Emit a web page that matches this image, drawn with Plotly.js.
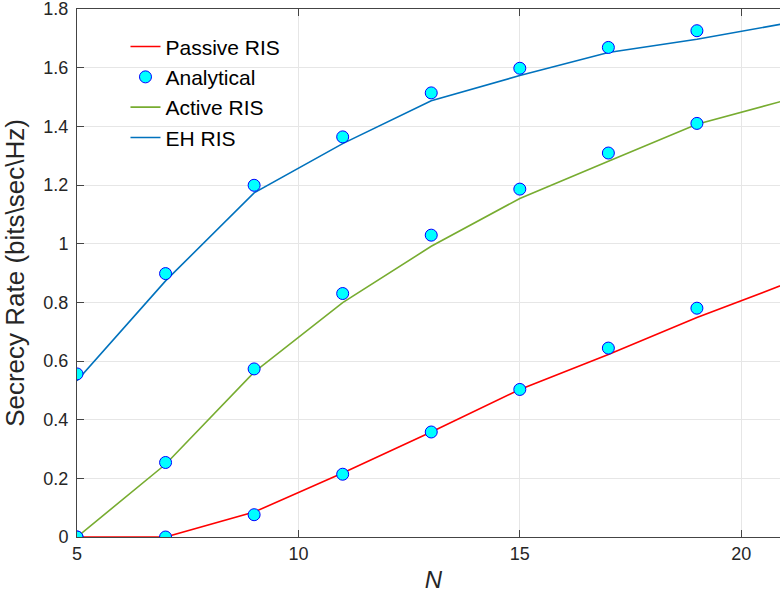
<!DOCTYPE html>
<html>
<head>
<meta charset="utf-8">
<script src="https://cdn.plot.ly/plotly-3.0.1.min.js"></script>
<style>
html,body{margin:0;padding:0;overflow:hidden;background:#fff;}
#chart{width:800px;height:599px;}
</style>
</head>
<body>
<div id="chart"></div>
<script>
// Data
var N_sim = [5, 7, 9, 11, 13, 15, 17, 19, 21];
var passiveSim = [0, 0, 0.085, 0.218, 0.358, 0.503, 0.622, 0.748, 0.863];
var activeSim  = [0, 0.248, 0.562, 0.799, 0.991, 1.154, 1.281, 1.407, 1.489];
var ehSim      = [0.533, 0.873, 1.173, 1.341, 1.487, 1.573, 1.652, 1.697, 1.751];

var N_ana = [5, 7, 9, 11, 13, 15, 17, 19];
var passiveAna = [0, 0, 0.076, 0.214, 0.358, 0.503, 0.644, 0.780];
var activeAna  = [0, 0.254, 0.573, 0.830, 1.029, 1.186, 1.309, 1.410];
var ehAna      = [0.556, 0.898, 1.199, 1.364, 1.514, 1.598, 1.669, 1.726];

var xTicks = [5, 10, 15, 20];
var yTicks = [0, 0.2, 0.4, 0.6, 0.8, 1, 1.2, 1.4, 1.6, 1.8];
var yTickText = ['0', '0.2', '0.4', '0.6', '0.8', '1', '1.2', '1.4', '1.6', '1.8'];
var seriesNames = ['Passive RIS', 'Active RIS', 'EH RIS'];
var anaName = 'Analytical';

var colors = ['#ff0000', '#77ac30', '#0072bd'];
var font = 'Liberation Sans, Arial, Helvetica, sans-serif';
var txt = '#262626';

var markerStyle = {symbol: 'circle', size: 12, color: '#00ffff', line: {color: '#0000ff', width: 1}};

function lineTrace(y, i) {
  return {x: N_sim, y: y, mode: 'lines', name: seriesNames[i],
          line: {color: colors[i], width: 1.6}, showlegend: true};
}
function anaTrace(y, show) {
  return {x: N_ana, y: y, mode: 'markers', name: anaName,
          marker: markerStyle, showlegend: show};
}

var data = [
  lineTrace(passiveSim, 0),
  anaTrace(passiveAna, true),
  lineTrace(activeSim, 1),
  anaTrace(activeAna, false),
  lineTrace(ehSim, 2),
  anaTrace(ehAna, false)
];

var plotW = 800, l = 77, r = 10;
var pxPerUnit = 44.28;
var xMax = 5 + (plotW - l - r) / pxPerUnit;

var layout = {
  width: plotW, height: 599,
  margin: {l: l, r: r, t: 9, b: 62},
  paper_bgcolor: '#ffffff', plot_bgcolor: '#ffffff',
  font: {family: font, color: txt, size: 18},
  showlegend: true,
  legend: {
    x: 0.068, y: 0.967, xanchor: 'left', yanchor: 'top',
    bgcolor: 'rgba(255,255,255,0)', borderwidth: 0,
    font: {family: font, size: 21, color: '#000'},
    tracegroupgap: 0, traceorder: 'normal'
  },
  xaxis: {
    range: [5, xMax], tickvals: xTicks, ticktext: xTicks.map(String),
    showgrid: true, gridcolor: '#e6e6e6', gridwidth: 1,
    zeroline: false, showline: true, linecolor: '#444', linewidth: 1,
    mirror: 'ticks', ticks: 'inside', ticklen: 7, tickcolor: '#444',
    ticklabeloverflow: 'allow',
    tickfont: {family: font, size: 18, color: txt},
    title: {text: '<i>N</i>', font: {family: font, size: 24, color: txt}, standoff: 8}
  },
  yaxis: {
    range: [0, 1.8], tickvals: yTicks, ticktext: yTickText,
    showgrid: true, gridcolor: '#e6e6e6', gridwidth: 1,
    zeroline: false, showline: true, linecolor: '#444', linewidth: 1,
    mirror: 'ticks', ticks: 'inside', ticklen: 7, tickcolor: '#444',
    ticklabelstandoff: 4, ticklabeloverflow: 'allow',
    tickfont: {family: font, size: 18, color: txt},
    title: {text: 'Secrecy Rate (bits\\sec\\Hz)', font: {family: font, size: 26, color: txt}, standoff: 12}
  }
};

Plotly.newPlot('chart', data, layout, {displayModeBar: false, staticPlot: true});
</script>
</body>
</html>
